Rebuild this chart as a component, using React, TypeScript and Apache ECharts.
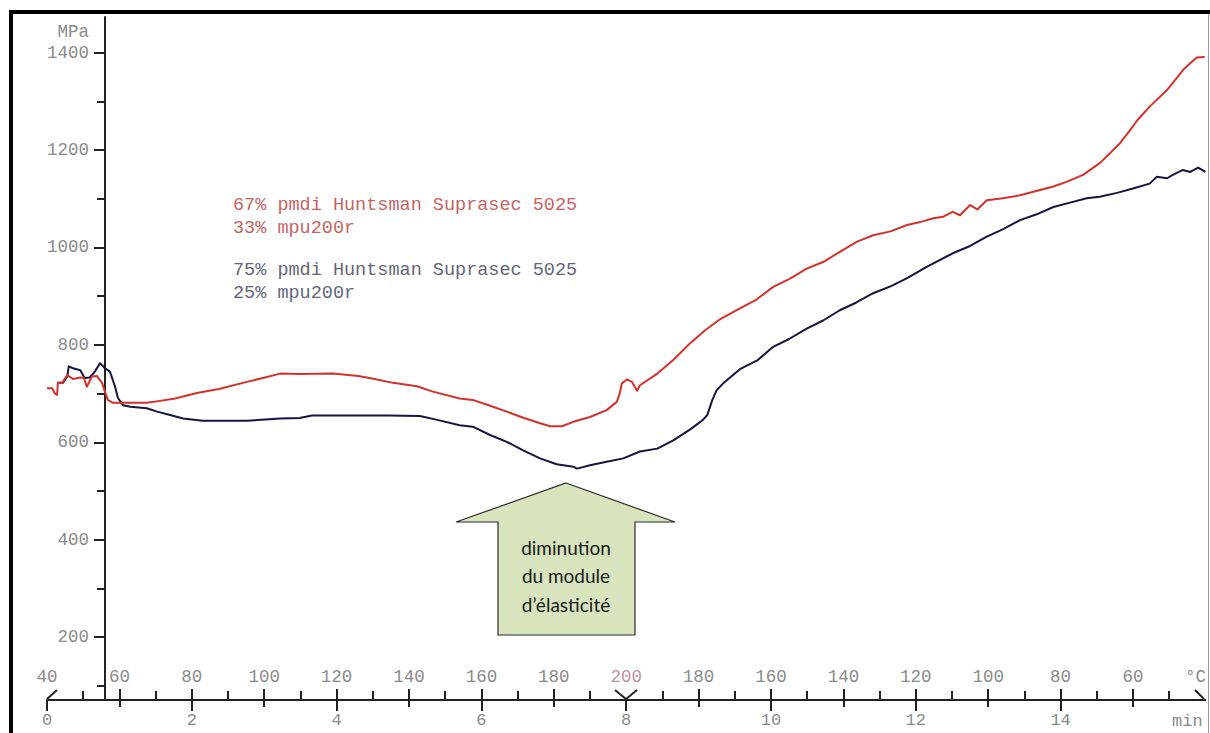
import React, { useEffect, useRef } from "react";
import * as echarts from "echarts";

// ---- data (time in minutes, modulus in MPa) ----
const redTime = [0.0, 0.07, 0.11, 0.14, 0.15, 0.21, 0.28, 0.36, 0.46, 0.51, 0.55, 0.62, 0.69, 0.76, 0.8, 0.84, 0.91, 1.38, 1.56, 1.77, 2.07, 2.39, 2.76, 3.01, 3.22, 3.49, 3.95, 4.3, 4.49, 4.78, 5.11, 5.33, 5.7, 5.88, 6.12, 6.35, 6.57, 6.81, 6.95, 7.11, 7.27, 7.5, 7.73, 7.87, 7.91, 7.94, 8.01, 8.08, 8.15, 8.19, 8.43, 8.65, 8.88, 9.09, 9.3, 9.57, 9.8, 10.03, 10.25, 10.5, 10.72, 10.95, 11.19, 11.41, 11.65, 11.88, 12.06, 12.24, 12.38, 12.51, 12.61, 12.75, 12.85, 12.98, 13.2, 13.44, 13.9, 14.09, 14.31, 14.54, 14.68, 14.82, 14.96, 15.06, 15.23, 15.47, 15.69, 15.79, 15.88, 15.99];
const redValues = [711, 711, 700, 697, 722, 722, 738, 730, 733, 732, 714, 735, 736, 722, 704, 687, 681, 681, 685, 690, 701, 710, 724, 733, 741, 740, 741, 736, 731, 722, 715, 704, 690, 687, 675, 663, 651, 639, 633, 633, 642, 652, 666, 683, 700, 721, 729, 724, 706, 717, 741, 769, 803, 830, 853, 875, 893, 919, 935, 957, 970, 991, 1012, 1025, 1033, 1046, 1052, 1060, 1063, 1073, 1066, 1087, 1078, 1097, 1101, 1107, 1125, 1135, 1149, 1173, 1193, 1214, 1241, 1261, 1289, 1323, 1364, 1378, 1390, 1391];

const blueTime = [0.14, 0.22, 0.28, 0.3, 0.36, 0.46, 0.52, 0.59, 0.66, 0.73, 0.77, 0.8, 0.87, 0.94, 0.98, 1.05, 1.15, 1.38, 1.52, 1.7, 1.88, 2.15, 2.76, 3.22, 3.49, 3.66, 4.3, 4.71, 5.15, 5.39, 5.7, 5.88, 6.12, 6.35, 6.57, 6.81, 7.04, 7.27, 7.32, 7.5, 7.73, 7.96, 8.19, 8.43, 8.65, 8.88, 9.06, 9.12, 9.19, 9.25, 9.34, 9.57, 9.81, 10.03, 10.25, 10.5, 10.72, 10.95, 11.18, 11.41, 11.65, 11.88, 12.15, 12.51, 12.75, 12.98, 13.2, 13.44, 13.67, 13.9, 14.13, 14.36, 14.54, 14.78, 15.0, 15.23, 15.33, 15.47, 15.55, 15.69, 15.79, 15.9, 16.0];
const blueValues = [722, 722, 735, 756, 752, 748, 732, 733, 745, 762, 757, 752, 745, 714, 691, 676, 673, 670, 663, 656, 649, 644, 644, 649, 650, 655, 655, 655, 654, 646, 635, 632, 615, 601, 584, 567, 555, 550, 546, 553, 560, 567, 581, 587, 604, 626, 646, 656, 687, 707, 721, 750, 768, 796, 812, 834, 850, 871, 887, 906, 920, 937, 960, 988, 1003, 1022, 1037, 1056, 1068, 1083, 1092, 1101, 1104, 1112, 1121, 1131, 1145, 1142, 1149, 1159, 1155, 1164, 1155];

// ---- axis ticks / labels ----
const minuteLabels = [0, 2, 4, 6, 8, 10, 12, 14];
const oddMinutes = [1, 3, 5, 7, 9, 11, 13, 15];
const upTickMinutes = [1, 2, 3, 4, 5, 6, 7, 9, 10, 11, 12, 13, 14, 15];
const halfMinutes = [0.5, 1.5, 2.5, 3.5, 4.5, 5.5, 6.5, 7.5, 8.5, 9.5, 10.5, 11.5, 12.5, 13.5, 14.5, 15.5];
const tempPositions = [0, 1, 2, 3, 4, 5, 6, 7, 8, 9, 10, 11, 12, 13, 14, 15];
const tempLabels = ["40", "60", "80", "100", "120", "140", "160", "180", "200", "180", "160", "140", "120", "100", "80", "60"];
const majorMPa = [200, 400, 600, 800, 1000, 1200, 1400];
const minorMPa = [100, 300, 500, 700, 900, 1100, 1300];

const legendRed = ["67% pmdi Huntsman Suprasec 5025", "33% mpu200r"];
const legendBlue = ["75% pmdi Huntsman Suprasec 5025", "25% mpu200r"];
const arrowText = ["diminution", "du module", "d\u2019élasticité"];

const MONO = '"Liberation Mono", "DejaVu Sans Mono", monospace';
const AX = "#222";
const LABEL = "#8a8a8a";

export default function App() {
  const ref = useRef<HTMLDivElement>(null);

  useEffect(() => {
    if (!ref.current) return;
    const chart = echarts.init(ref.current, undefined, { renderer: "svg" });

    const baseX = { type: "value", min: 0, max: 16, position: "bottom", gridIndex: 0, splitLine: { show: false } };
    const baseY = { type: "value", min: 71, max: 1473, position: "left", offset: -58, gridIndex: 0, splitLine: { show: false } };
    const tickStyle = { color: AX, width: 2 };

    const option: any = {
      animation: false,
      backgroundColor: "#ffffff",
      grid: { left: 47, right: 4.6, top: 17, bottom: 33, containLabel: false, outerBoundsMode: "none" },
      xAxis: [
        {
          ...baseX,
          axisLine: { show: true, onZero: false, lineStyle: { color: AX, width: 2 } },
          axisTick: { show: true, length: 11, customValues: minuteLabels, lineStyle: tickStyle },
          axisLabel: {
            show: true,
            customValues: minuteLabels,
            margin: 12,
            color: LABEL,
            fontSize: 17,
            fontFamily: MONO,
            formatter: (v: number) => String(v),
          },
        },
        {
          ...baseX,
          axisLine: { show: false, onZero: false },
          axisTick: { show: true, length: 7, customValues: oddMinutes, lineStyle: tickStyle },
          axisLabel: { show: false },
        },
        {
          ...baseX,
          axisLine: { show: false, onZero: false },
          axisTick: { show: true, inside: true, length: 11, customValues: upTickMinutes, lineStyle: tickStyle },
          axisLabel: {
            show: true,
            inside: true,
            margin: 14,
            customValues: tempPositions,
            formatter: (v: number) => tempLabels[tempPositions.indexOf(Math.round(v))] ?? "",
            color: (v: any) => (Number(v) === 8 ? "#c4929a" : LABEL),
            fontSize: 17.5,
            fontFamily: MONO,
          },
        },
        {
          ...baseX,
          axisLine: { show: false, onZero: false },
          axisTick: { show: true, inside: true, length: 9, customValues: halfMinutes, lineStyle: tickStyle },
          axisLabel: { show: false },
        },
      ],
      yAxis: [
        {
          ...baseY,
          axisLine: { show: true, onZero: false, lineStyle: { color: AX, width: 2 } },
          axisTick: { show: true, length: 11, customValues: majorMPa, lineStyle: tickStyle },
          axisLabel: {
            show: true,
            customValues: majorMPa,
            margin: 16,
            color: LABEL,
            fontSize: 17.5,
            fontFamily: MONO,
            formatter: (v: number) => String(v),
          },
        },
        {
          ...baseY,
          axisLine: { show: false, onZero: false },
          axisTick: { show: true, length: 8, customValues: minorMPa, lineStyle: tickStyle },
          axisLabel: { show: false },
        },
      ],
      series: [
        {
          type: "line",
          name: "75% pmdi",
          xAxisIndex: 0,
          yAxisIndex: 0,
          showSymbol: false,
          clip: true,
          lineStyle: { color: "#15153f", width: 2, join: "round" },
          data: blueTime.map((t, i) => [t, blueValues[i]]),
        },
        {
          type: "line",
          name: "67% pmdi",
          xAxisIndex: 0,
          yAxisIndex: 0,
          showSymbol: false,
          clip: true,
          lineStyle: { color: "#d3312c", width: 2, join: "round" },
          data: redTime.map((t, i) => [t, redValues[i]]),
        },
      ],
      graphic: [
        // frame
        { type: "rect", shape: { x: 9, y: 10, width: 1201, height: 4 }, style: { fill: "#000" } },
        { type: "rect", shape: { x: 9, y: 10, width: 4, height: 723 }, style: { fill: "#000" } },
        { type: "rect", shape: { x: 1208, y: 14, width: 1, height: 719 }, style: { fill: "#9a9a9a" } },
        // temperature programme marks
        { type: "line", shape: { x1: 47, y1: 699, x2: 57, y2: 690 }, style: { stroke: AX, lineWidth: 2 } },
        { type: "polyline", shape: { points: [[615, 690], [626, 699], [637, 690]] }, style: { stroke: AX, lineWidth: 2, fill: null } },
        { type: "line", shape: { x1: 1195, y1: 690, x2: 1204, y2: 699 }, style: { stroke: AX, lineWidth: 2 } },
        // units
        { type: "text", style: { x: 89, y: 32, text: "MPa", fill: LABEL, font: `17.5px ${MONO}`, align: "right", verticalAlign: "middle" } },
        { type: "text", style: { x: 1185, y: 677, text: "°C", fill: LABEL, font: `17.5px ${MONO}`, align: "left", verticalAlign: "middle" } },
        { type: "text", style: { x: 1172, y: 713, text: "min", fill: LABEL, font: `17px ${MONO}`, align: "left", verticalAlign: "top" } },
        // legend texts
        ...legendRed.map((s, i) => ({
          type: "text",
          style: { x: 233, y: 205 + i * 23, text: s, fill: "#c86464", font: `18.5px ${MONO}`, align: "left", verticalAlign: "middle" },
        })),
        ...legendBlue.map((s, i) => ({
          type: "text",
          style: { x: 233, y: 270 + i * 23, text: s, fill: "#66667a", font: `18.5px ${MONO}`, align: "left", verticalAlign: "middle" },
        })),
        // arrow
        {
          type: "polygon",
          shape: { points: [[566, 483], [675, 522], [635, 522], [635, 635], [498, 635], [498, 522], [456, 522]] },
          style: { fill: "#d7e4bd", stroke: "#2a2a2a", lineWidth: 1.2 },
        },
        ...arrowText.map((s, i) => ({
          type: "text",
          style: { x: 566, y: 547 + i * 28.5, text: s, fill: "#1a1a1a", font: '19px Lato, "Open Sans", sans-serif', align: "center", verticalAlign: "middle" },
        })),
      ],
    };

    chart.setOption(option);
    return () => chart.dispose();
  }, []);

  return (
    <div
      ref={ref}
      style={{ position: "fixed", left: 0, top: 0, width: 1210, height: 733, background: "#fff" }}
    />
  );
}
